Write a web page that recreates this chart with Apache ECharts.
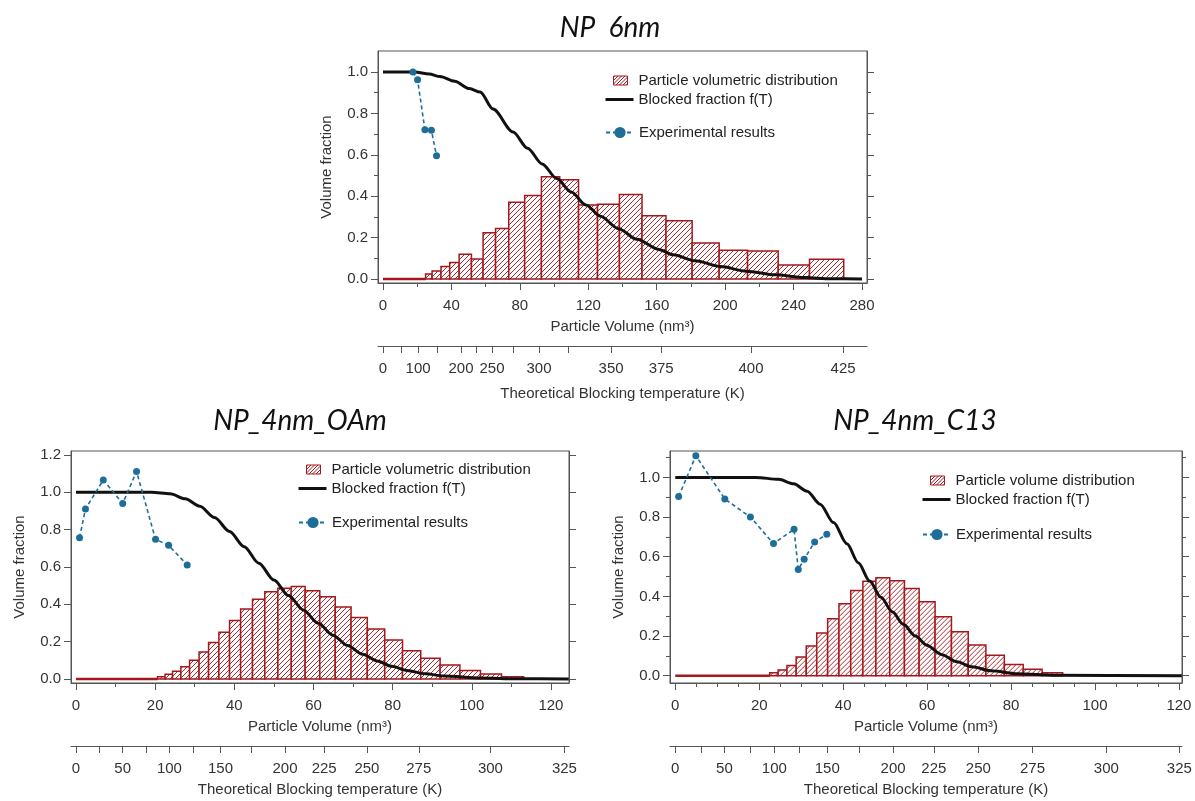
<!DOCTYPE html>
<html>
<head>
<meta charset="utf-8">
<script src="https://cdn.jsdelivr.net/npm/echarts@6/dist/echarts.min.js"></script>
<style>
  html, body { margin: 0; background: #fff; }
  #chart { width: 1195px; height: 801px; }
</style>
</head>
<body>
<div id="chart"></div>
<script>
  // ---- NP 6nm ----
  var np6Edges = [24.9, 28.7, 33.9, 39.0, 44.5, 51.7, 58.5, 65.8, 73.5, 82.8, 92.6, 103.3, 114.3, 125.4, 138.2, 151.4, 165.4, 180.7, 196.5, 213.1, 231.0, 249.3, 269.3];
  var np6Dist = [0.024, 0.039, 0.06, 0.08, 0.12, 0.097, 0.224, 0.244, 0.371, 0.403, 0.494, 0.479, 0.358, 0.361, 0.408, 0.305, 0.281, 0.174, 0.139, 0.135, 0.068, 0.095];
  var np6CurveV = [0, 18.5, 27, 33.4, 41.9, 50.5, 56.8, 64.3, 76, 84.5, 93, 101.6, 110, 118.6, 127.1, 137.7, 148.4, 161.2, 169.7, 182.5, 197.4, 212.3, 229.3, 246.3, 262, 280];
  var np6CurveF = [1.0, 1.0, 0.99, 0.978, 0.955, 0.92, 0.903, 0.821, 0.71, 0.632, 0.556, 0.485, 0.42, 0.358, 0.303, 0.243, 0.192, 0.143, 0.117, 0.088, 0.06, 0.038, 0.02, 0.007, 0.001, 0];
  var np6ExpV = [17.5, 20.2, 24.5, 28.3, 31.3];
  var np6ExpF = [1.0, 0.963, 0.721, 0.718, 0.595];
  var np6TempK = [0, 50, 100, 150, 200, 225, 250, 275, 300, 325, 350, 375, 400, 425];
  var np6TempAt = [0, 10.5, 20.5, 31.6, 45.6, 54.4, 63.7, 76.0, 91.2, 108.2, 133.3, 162.6, 215.1, 268.9];
  var np6TempShown = [0, 100, 200, 250, 300, 350, 375, 400, 425];

  // ---- NP_4nm_OAm ----
  var oamEdges = [20.6, 22.5, 24.4, 26.5, 28.7, 31.1, 33.5, 36.1, 38.8, 41.6, 44.6, 47.7, 51.0, 54.4, 57.9, 61.6, 65.5, 69.5, 73.6, 78.0, 82.5, 87.1, 92.0, 97.0, 102.2, 107.5, 113.1];
  var oamDist = [0.0125, 0.025, 0.041, 0.066, 0.10, 0.145, 0.195, 0.25, 0.314, 0.375, 0.427, 0.468, 0.486, 0.495, 0.473, 0.441, 0.386, 0.330, 0.268, 0.209, 0.152, 0.111, 0.075, 0.045, 0.027, 0.0125];
  var oamCurveV = [0, 19.1, 23.8, 27.6, 31.3, 35, 38.8, 42.5, 46.2, 50, 53.7, 57.4, 61.2, 64.9, 68.6, 72.4, 76.1, 79.8, 83.6, 88.3, 92.9, 102.3, 111.6, 124.5];
  var oamCurveF = [1.0, 1.0, 0.992, 0.965, 0.925, 0.865, 0.79, 0.708, 0.62, 0.53, 0.447, 0.37, 0.298, 0.235, 0.18, 0.133, 0.097, 0.068, 0.046, 0.028, 0.016, 0.005, 0.001, 0];
  var oamExpV = [0.9, 2.4, 6.9, 11.8, 15.3, 20.1, 23.4, 28.1];
  var oamExpF = [0.757, 0.911, 1.066, 0.94, 1.112, 0.748, 0.716, 0.611];
  var oamTempAt = [0, 6.0, 11.8, 17.7, 23.6, 29.6, 36.5, 44.2, 52.8, 62.7, 73.5, 86.6, 104.7, 123.4];

  // ---- NP_4nm_C13 ----
  var c13Edges = [22.5, 24.5, 26.6, 28.8, 31.2, 33.7, 36.3, 39.0, 41.8, 44.7, 47.8, 51.1, 54.6, 58.1, 61.9, 65.8, 69.8, 74.0, 78.4, 82.9, 87.4, 92.3];
  var c13Dist = [0.015, 0.029, 0.052, 0.094, 0.15, 0.215, 0.287, 0.363, 0.429, 0.476, 0.494, 0.479, 0.44, 0.373, 0.297, 0.222, 0.155, 0.103, 0.057, 0.032, 0.015];
  var c13CurveV = [0, 19.2, 24.6, 28.2, 31.4, 34.5, 37.7, 40.9, 43.6, 46.3, 49, 51.7, 54.4, 57.2, 59.9, 63.5, 67.1, 70.7, 75.2, 81.6, 90.6, 120.7];
  var c13CurveF = [1.0, 1.0, 0.99, 0.968, 0.93, 0.865, 0.772, 0.665, 0.57, 0.478, 0.395, 0.322, 0.258, 0.2, 0.154, 0.106, 0.07, 0.045, 0.025, 0.01, 0.002, 0];
  var c13ExpV = [0.8, 4.9, 11.8, 17.9, 23.4, 28.3, 29.3, 30.7, 33.2, 36.1];
  var c13ExpF = [0.903, 1.109, 0.891, 0.8, 0.666, 0.738, 0.536, 0.587, 0.674, 0.713];
  var c13TempAt = [0, 6.2, 11.7, 17.9, 23.6, 29.5, 36.2, 43.8, 51.9, 61.6, 72.2, 85.1, 102.7, 120.1];

  // shared for the two 4nm panels
  var smallTempK = [0, 25, 50, 75, 100, 125, 150, 175, 200, 225, 250, 275, 300, 325];
  var smallTempShown = [0, 50, 100, 150, 200, 225, 250, 275, 300, 325];

  // tick lists
  var np6XMajor = [0, 40, 80, 120, 160, 200, 240, 280];
  var np6XMinor = [20, 60, 100, 140, 180, 220, 260];
  var np6YMajor = [0, 0.2, 0.4, 0.6, 0.8, 1.0];
  var np6YMinor = [0.1, 0.3, 0.5, 0.7, 0.9];
  var oamXMajor = [0, 20, 40, 60, 80, 100, 120];
  var oamXMinor = [10, 30, 50, 70, 90, 110];
  var oamYMajor = [0, 0.2, 0.4, 0.6, 0.8, 1.0, 1.2];
  var c13XMajor = [0, 20, 40, 60, 80, 100, 120];
  var c13XMinor = [5, 10, 15, 25, 30, 35, 45, 50, 55, 65, 70, 75, 85, 90, 95, 105, 110, 115];
  var c13YMajor = [0, 0.2, 0.4, 0.6, 0.8, 1.0];
  var c13YMinor = [0.1, 0.3, 0.5, 0.7, 0.9, 1.1];

  var titles = ['NP  6nm', 'NP_4nm_OAm', 'NP_4nm_C13'];

  var RED = '#a3181d';
  var HATCH = '#b3262b';
  var BLUE = '#1f6e9a';
  var AXIS = '#555';
  var TEXT = '#333';
  var FONT = '"Liberation Sans", Arial, sans-serif';

  // "/" hatch segments inside a box, clipped by hand
  function hatchSegments(x0, y0, x1, y1, step) {
    var h = y1 - y0;
    var segs = [];
    var k = Math.floor((x0 - h) / step) * step;
    for (; k < x1; k += step) {
      var t0 = Math.max(0, x0 - k);
      var t1 = Math.min(h, x1 - k);
      if (t1 > t0) segs.push([k + t0, y1 - t0, k + t1, y1 - t1]);
    }
    return segs;
  }

  var distIcon = 'path://M0,0L0,0M28,14L28,14M8,2.5H22V11.5H8Z' +
    hatchSegments(8, 2.5, 22, 11.5, 3.5).map(function (s) {
      return 'M' + s[0] + ',' + s[1] + 'L' + s[2] + ',' + s[3];
    }).join('');
  var lineIcon = 'path://M0,5.5H28V8.5H0Z';

  function zip(a, b) {
    return a.map(function (v, i) { return [v, b[i]]; });
  }

  function bins(edges, vals) {
    return vals.map(function (v, i) { return [edges[i], edges[i + 1], v]; });
  }

  function histItem(params, api) {
    var a = api.coord([api.value(0), api.value(2)]);
    var b = api.coord([api.value(1), 0]);
    var box = { x: a[0], y: a[1], width: b[0] - a[0], height: b[1] - a[1] };
    var children = [{ type: 'rect', shape: box, style: { fill: '#fff' } }];
    hatchSegments(a[0], a[1], b[0], b[1], 5).forEach(function (s) {
      children.push({
        type: 'line', shape: { x1: s[0], y1: s[1], x2: s[2], y2: s[3] },
        style: { stroke: HATCH, lineWidth: 1 }
      });
    });
    children.push({ type: 'rect', shape: box, style: { fill: null, stroke: RED, lineWidth: 1.5 } });
    return { type: 'group', children: children };
  }

  function axis(gridIndex, position, min, max, o) {
    return {
      type: 'value',
      gridIndex: gridIndex,
      position: position,
      min: min,
      max: max,
      offset: o.offset || 0,
      axisLine: { show: !!o.line, onZero: false, lineStyle: { color: AXIS, width: 1 } },
      axisTick: { show: !!o.ticks, customValues: o.ticks || [], length: o.tickLen || 7, inside: false, lineStyle: { color: AXIS, width: 1 } },
      axisLabel: o.labels ? {
        show: true, customValues: o.labels, margin: o.margin || 10,
        color: TEXT, fontSize: 15, fontFamily: FONT, formatter: o.fmt
      } : { show: false },
      splitLine: { show: false },
      name: o.name || '',
      nameLocation: 'middle',
      nameGap: o.nameGap || 0,
      nameTextStyle: { color: TEXT, fontSize: 15, fontFamily: FONT }
    };
  }

  var option = {
    animation: false,
    backgroundColor: '#fff',
    grid: [], xAxis: [], yAxis: [], series: [], legend: [], graphic: []
  };

  function addPanel(p) {
    var g = option.grid.length;
    option.grid.push({
      left: p.left, top: p.top, width: p.width, height: p.height,
      show: true, borderColor: AXIS, borderWidth: 1, backgroundColor: 'transparent',
      outerBoundsMode: 'none'
    });
    var xi = option.xAxis.length;
    var yi = option.yAxis.length;
    var tempFmt = function (v) {
      var k = p.tempK[p.tempAt.indexOf(v)];
      return p.tempShown.indexOf(k) >= 0 ? String(k) : '';
    };
    option.xAxis.push(
      axis(g, 'bottom', p.xMin, p.xMax, {
        line: true, ticks: p.xMajor, labels: p.xMajor, margin: 15,
        fmt: function (v) { return String(v); },
        name: 'Particle Volume (nm³)', nameGap: 36
      }),
      axis(g, 'bottom', p.xMin, p.xMax, { ticks: p.xMinor, tickLen: 4 }),
      axis(g, 'bottom', p.xMin, p.xMax, {
        line: true, offset: 63, ticks: p.tempAt, labels: p.tempAt, margin: 15, fmt: tempFmt,
        name: 'Theoretical Blocking temperature (K)', nameGap: p.tempGap
      })
    );
    option.yAxis.push(
      axis(g, 'left', p.yMin, p.yMax, {
        line: true, ticks: p.yMajor, labels: p.yMajor, margin: 10,
        fmt: function (v) { return v.toFixed(1); },
        name: 'Volume fraction', nameGap: 44
      }),
      axis(g, 'right', p.yMin, p.yMax, { line: true, ticks: p.yMajor })
    );
    if (p.yMinor) {
      option.yAxis.push(
        axis(g, 'left', p.yMin, p.yMax, { ticks: p.yMinor, tickLen: 4 }),
        axis(g, 'right', p.yMin, p.yMax, { ticks: p.yMinor, tickLen: 4 })
      );
    }

    option.series.push(
      {
        type: 'line', xAxisIndex: xi, yAxisIndex: yi, silent: true,
        data: [[0, 0], [p.edges[0], 0]], symbol: 'none',
        lineStyle: { color: RED, width: 2.5 }, z: 2
      },
      {
        type: 'custom', name: p.distName, xAxisIndex: xi, yAxisIndex: yi,
        renderItem: histItem, encode: { x: [0, 1], y: 2 },
        data: bins(p.edges, p.dist),
        itemStyle: { color: '#fff', borderColor: RED }, z: 2
      },
      {
        type: 'line', name: 'Blocked fraction f(T)', xAxisIndex: xi, yAxisIndex: yi,
        data: zip(p.curveV, p.curveF), symbol: 'none', smooth: 0.3, smoothMonotone: 'x',
        lineStyle: { color: '#111', width: 3 }, itemStyle: { color: '#111' }, z: 3
      },
      {
        type: 'line', name: 'Experimental results', xAxisIndex: xi, yAxisIndex: yi,
        data: zip(p.expV, p.expF), symbol: 'circle', symbolSize: 7,
        lineStyle: { color: BLUE, width: 1.6, type: [4, 3] }, itemStyle: { color: BLUE }, z: 4
      }
    );

    var legendBase = {
      orient: 'vertical', left: p.legX, itemWidth: 28, itemHeight: 14, itemGap: 4,
      selectedMode: false, padding: 0,
      textStyle: { color: '#222', fontSize: 15, fontFamily: FONT }
    };
    option.legend.push(
      Object.assign({}, legendBase, {
        top: p.legY,
        data: [
          { name: p.distName, icon: distIcon, itemStyle: { color: '#fff', borderColor: RED, borderWidth: 1 } },
          { name: 'Blocked fraction f(T)', icon: lineIcon, itemStyle: { color: '#111', borderWidth: 0 } }
        ]
      }),
      Object.assign({}, legendBase, {
        top: p.legY2,
        data: [{ name: 'Experimental results' }]
      })
    );

    option.graphic.push({
      type: 'text', x: p.titleX, y: p.titleY,
      style: {
        text: p.title, fontSize: 28, fontStyle: 'italic', fontFamily: 'Lato, "Open Sans", sans-serif',
        fill: '#111', textAlign: 'center', textVerticalAlign: 'middle', align: 'center', verticalAlign: 'middle'
      }
    });
  }

  addPanel({
    title: titles[0], titleX: 610, titleY: 28,
    left: 378, top: 51, width: 489, height: 232,
    xMin: -2.92, xMax: 282.9, yMin: -0.0193, yMax: 1.1014,
    xMajor: np6XMajor, xMinor: np6XMinor, yMajor: np6YMajor, yMinor: np6YMinor,
    tempK: np6TempK, tempAt: np6TempAt, tempShown: np6TempShown, tempGap: 40,
    edges: np6Edges, dist: np6Dist, distName: 'Particle volumetric distribution',
    curveV: np6CurveV, curveF: np6CurveF, expV: np6ExpV, expF: np6ExpF,
    legX: 605, legY: 73, legY2: 125
  });

  addPanel({
    title: titles[1], titleX: 300, titleY: 421,
    left: 71, top: 451, width: 498, height: 232,
    xMin: -1.26, xMax: 124.56, yMin: -0.0214, yMax: 1.2212,
    xMajor: oamXMajor, xMinor: oamXMinor, yMajor: oamYMajor, yMinor: null,
    tempK: smallTempK, tempAt: oamTempAt, tempShown: smallTempShown, tempGap: 36,
    edges: oamEdges, dist: oamDist, distName: 'Particle volumetric distribution',
    curveV: oamCurveV, curveF: oamCurveF, expV: oamExpV, expF: oamExpF,
    legX: 298, legY: 462, legY2: 515
  });

  addPanel({
    title: titles[2], titleX: 915, titleY: 421,
    left: 670, top: 451, width: 512, height: 232,
    xMin: -1.26, xMax: 120.73, yMin: -0.0368, yMax: 1.133,
    xMajor: c13XMajor, xMinor: c13XMinor, yMajor: c13YMajor, yMinor: c13YMinor,
    tempK: smallTempK, tempAt: c13TempAt, tempShown: smallTempShown, tempGap: 36,
    edges: c13Edges, dist: c13Dist, distName: 'Particle volume distribution',
    curveV: c13CurveV, curveF: c13CurveF, expV: c13ExpV, expF: c13ExpF,
    legX: 922, legY: 473, legY2: 527
  });

  var chart = echarts.init(document.getElementById('chart'));
  chart.setOption(option);
</script>
</body>
</html>
